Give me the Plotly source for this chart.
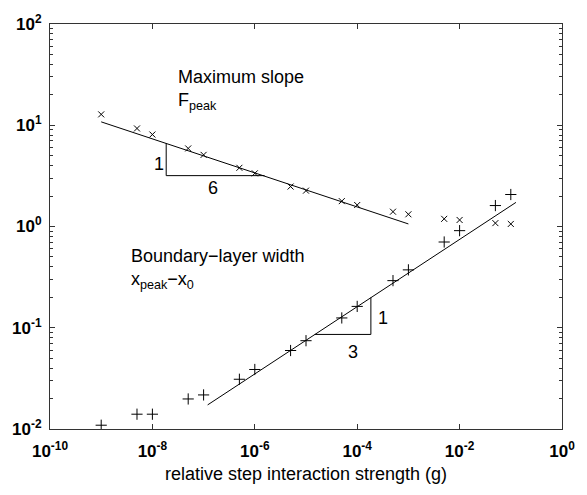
import plotly.graph_objects as go

# ---- data ----
g_vals = [1e-9, 5e-9, 1e-8, 5e-8, 1e-7, 5e-7, 1e-6, 5e-6, 1e-5, 5e-5,
          1e-4, 5e-4, 1e-3, 5e-3, 1e-2, 5e-2, 1e-1]
fpeak = [12.8, 9.3, 8.1, 5.9, 5.1, 3.8, 3.35, 2.48, 2.26, 1.78,
         1.63, 1.40, 1.32, 1.19, 1.16, 1.08, 1.06]
width = [0.0109, 0.0140, 0.0140, 0.0198, 0.0217, 0.031, 0.0387, 0.0596, 0.0745, 0.125,
         0.1625, 0.292, 0.373, 0.703, 0.91, 1.61, 2.07]

fit_f_x = [1e-9, 1e-3]
fit_f_y = [10.8, 1.06]
fit_w_x = [1.2e-7, 0.126]
fit_w_y = [0.0173, 1.73]

tri_f_x = [1.86e-8, 1.86e-8, 1.55e-6]
tri_f_y = [6.64, 3.18, 3.18]
tri_w_x = [1.48e-5, 1.85e-4, 1.85e-4]
tri_w_y = [0.0859, 0.0859, 0.199]

x_ticks = [1e-10, 1e-8, 1e-6, 1e-4, 1e-2, 1]
x_ticktext = ["<b>10<sup>-10</sup></b>", "<b>10<sup>-8</sup></b>", "<b>10<sup>-6</sup></b>",
              "<b>10<sup>-4</sup></b>", "<b>10<sup>-2</sup></b>", "<b>10<sup>0</sup></b>"]
y_ticks = [1e-2, 1e-1, 1, 10, 100]
y_ticktext = ["<b>10<sup>-2</sup></b>", "<b>10<sup>-1</sup></b>", "<b>10<sup>0</sup></b>",
              "<b>10<sup>1</sup></b>", "<b>10<sup>2</sup></b>"]
y_minor = [m * 10.0 ** e for e in range(-2, 2) for m in range(2, 10)]

FONT = "Liberation Sans, Arial, Helvetica, sans-serif"
INK = "black"

fig = go.Figure()
fig.add_trace(go.Scatter(x=g_vals, y=fpeak, mode="markers",
                         marker=dict(symbol="x-thin-open", size=6, color=INK,
                                     line=dict(color=INK, width=1)),
                         showlegend=False))
fig.add_trace(go.Scatter(x=g_vals, y=width, mode="markers",
                         marker=dict(symbol="cross-thin-open", size=8, color=INK,
                                     line=dict(color=INK, width=1)),
                         showlegend=False))
for xs, ys in [(fit_f_x, fit_f_y), (fit_w_x, fit_w_y), (tri_f_x, tri_f_y), (tri_w_x, tri_w_y)]:
    fig.add_trace(go.Scatter(x=xs, y=ys, mode="lines", line=dict(color=INK, width=1),
                             showlegend=False, hoverinfo="skip"))

labels = [
    ("Maximum slope<br>F<sub>peak</sub>", 0.2467, 0.8983),
    ("Boundary\u2212layer width<br>x<sub>peak</sub>\u2212x<sub>0</sub>", 0.1549, 0.4576),
]
for txt, ax, ay in labels:
    fig.add_annotation(text=txt, x=ax, y=ay, xref="paper", yref="paper",
                       xanchor="left", yanchor="top", align="left", showarrow=False,
                       font=dict(family=FONT, size=18, color=INK))

slope_labels = [
    ("1", 0.2122, 0.654),
    ("6", 0.3174, 0.596),
    ("1", 0.6500, 0.273),
    ("3", 0.5927, 0.189),
]
for txt, ax, ay in slope_labels:
    fig.add_annotation(text=txt, x=ax, y=ay, xref="paper", yref="paper",
                       xanchor="center", yanchor="middle", showarrow=False,
                       font=dict(family=FONT, size=18, color=INK))

axis_common = dict(showgrid=False, zeroline=False, showline=True, linecolor="#333",
                   linewidth=1, mirror="ticks", ticks="inside", tickcolor="#333",
                   tickfont=dict(family=FONT, size=17, color=INK), tickmode="array")

fig.update_xaxes(type="log", range=[-10, 0], tickvals=x_ticks, ticktext=x_ticktext,
                 ticklen=5, ticklabelstandoff=7,
                 title=dict(text="relative step interaction strength (g)",
                            font=dict(family=FONT, size=18, color=INK), standoff=6),
                 **axis_common)
fig.update_yaxes(type="log", range=[-2, 2], tickvals=y_ticks, ticktext=y_ticktext,
                 ticklen=5, ticklabelstandoff=4,
                 minor=dict(tickvals=y_minor, ticks="inside", ticklen=3,
                            tickcolor="#333", showgrid=False),
                 **axis_common)

fig.update_layout(width=587, height=495, margin=dict(l=49, r=15, t=16, b=66),
                  plot_bgcolor="white", paper_bgcolor="white",
                  font=dict(family=FONT, color=INK))

fig.write_html("out.html")
